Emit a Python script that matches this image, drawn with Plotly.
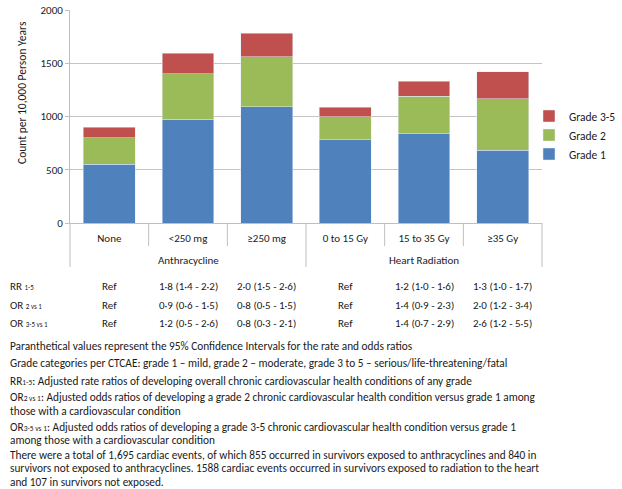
import plotly.graph_objects as go

# ---- data ----
groups = ["Anthracycline", "Anthracycline", "Anthracycline",
          "Heart Radiation", "Heart Radiation", "Heart Radiation"]
categories = ["None", "<250 mg", "≥250 mg", "0 to 15 Gy", "15 to 35 Gy", "≥35 Gy"]
grade1 = [550, 975, 1090, 780, 840, 685]
grade2 = [250, 425, 472, 220, 350, 480]
grade3_5 = [100, 195, 218, 88, 140, 255]

row_labels = ["RR <span style='font-size:7px'>1-5</span>",
              "OR <span style='font-size:7px'>2 vs 1</span>",
              "OR <span style='font-size:7px'>3-5 vs 1</span>"]
rr_1_5 = ["Ref", "1·8 (1·4 - 2·2)", "2·0 (1·5 - 2·6)", "Ref", "1·2 (1·0 - 1·6)", "1·3 (1·0 - 1·7)"]
or_2_vs_1 = ["Ref", "0·9 (0·6 - 1·5)", "0·8 (0·5 - 1·5)", "Ref", "1·4 (0·9 - 2·3)", "2·0 (1·2 - 3·4)"]
or_3_5_vs_1 = ["Ref", "1·2 (0·5 - 2·6)", "0·8 (0·3 - 2·1)", "Ref", "1·4 (0·7 - 2·9)", "2·6 (1·2 - 5·5)"]

footnotes = [
    "Paranthetical values represent the 95% Confidence Intervals for the rate and odds ratios",
    "Grade categories per CTCAE: grade 1 – mild, grade 2 – moderate, grade 3 to 5 – serious/life-threatening/fatal",
    "RR<span style='font-size:7.5px'>1-5</span>: Adjusted rate ratios of developing overall chronic cardiovascular health conditions of any grade",
    "OR<span style='font-size:7.5px'>2 vs 1</span>: Adjusted odds ratios of developing a grade 2 chronic cardiovascular health condition versus grade 1 among",
    "those with a cardiovascular condition",
    "OR<span style='font-size:7.5px'>3-5 vs 1</span>: Adjusted odds ratios of developing a grade 3-5 chronic cardiovascular health condition versus grade 1",
    "among those with a cardiovascular condition",
    "There were a total of 1,695 cardiac events, of which 855 occurred in survivors exposed to anthracyclines and 840 in",
    "survivors not exposed to anthracyclines. 1588 cardiac events occurred in survivors exposed to radiation to the heart",
    "and 107 in survivors not exposed.",
]

FONT = "Carlito, 'Liberation Sans Narrow', Lato, sans-serif"
W, H = 622, 489
L, R, T, B = 70, 80, 10, 266
PW, PH = W - L - R, H - T - B
GRID = "#c4c4c4"
AXIS = "#bfbfbf"

def px_x(px):
    return (px - L) / PW

def px_y(py):
    return (T + PH - py) / PH

fig = go.Figure()
fig.add_bar(x=categories, y=grade1, name="Grade 1", marker_color="#4f81bd")
fig.add_bar(x=categories, y=grade2, name="Grade 2", marker_color="#9bbb59")
fig.add_bar(x=categories, y=grade3_5, name="Grade 3-5", marker_color="#c0504d")

fig.update_layout(
    width=W, height=H,
    margin=dict(l=L, r=R, t=T, b=B, autoexpand=False),
    barmode="stack", bargap=0.34,
    plot_bgcolor="white", paper_bgcolor="white",
    font=dict(family=FONT, size=11, color="#1a1a1a"),
    legend=dict(x=px_x(529), y=px_y(135), xanchor="left", yanchor="middle",
                traceorder="reversed", font=dict(size=11.5), itemwidth=30,
                tracegroupgap=0),
    showlegend=True,
)
fig.update_yaxes(range=[0, 2000], dtick=500, showgrid=True, gridcolor=GRID,
                 showline=True, linecolor=AXIS, ticks="outside", ticklen=4,
                 tickcolor=AXIS, tickfont=dict(size=11), zeroline=False,
                 automargin=False)
fig.update_xaxes(type="category", showline=True, linecolor=AXIS, ticks="",
                 tickfont=dict(size=11), ticklabelstandoff=5, automargin=False,
                 range=[-0.5, len(categories) - 0.5])

# y-axis title
fig.add_annotation(text="Count per 10,000 Person Years", textangle=-90,
                   x=px_x(22), y=px_y(93), xref="paper", yref="paper",
                   xanchor="center", yanchor="middle",
                   showarrow=False, font=dict(size=11.5))

# category separators and group labels
n = len(categories)
for i in range(0, n + 1):
    is_group_edge = (i == 0 or i == n or groups[i] != groups[i - 1])
    fig.add_shape(type="line", xref="paper", yref="paper",
                  x0=i / n, x1=i / n, y0=0, y1=px_y(267 if is_group_edge else 246),
                  line=dict(color=AXIS, width=1))
for g in dict.fromkeys(groups):
    idx = [i for i, gg in enumerate(groups) if gg == g]
    xc = (min(idx) + max(idx) + 1) / 2 / n
    fig.add_annotation(text=g, x=xc, y=px_y(260.5), xref="paper", yref="paper",
                       xanchor="center", yanchor="middle", showarrow=False,
                       font=dict(size=11))

# table
rows = [rr_1_5, or_2_vs_1, or_3_5_vs_1]
row_y = [286.5, 305, 323.5]
for lab, vals, yy in zip(row_labels, rows, row_y):
    fig.add_annotation(text=lab, x=px_x(8), y=px_y(yy), xref="paper", yref="paper",
                       xanchor="left", yanchor="middle", showarrow=False,
                       font=dict(size=11))
    for i, v in enumerate(vals):
        fig.add_annotation(text=v, x=(i + 0.5) / n, y=px_y(yy), xref="paper", yref="paper",
                           xanchor="center", yanchor="middle", showarrow=False,
                           font=dict(size=11))

# footnotes
foot_y = [345.5, 362.5, 380.5, 396.5, 410.5, 426.5, 440.5, 455, 468, 481.5]
for txt, yy in zip(footnotes, foot_y):
    fig.add_annotation(text=txt, x=px_x(8), y=px_y(yy), xref="paper", yref="paper",
                       xanchor="left", yanchor="middle", showarrow=False,
                       font=dict(size=11.3))

fig.write_html("out.html", config={"displayModeBar": False},
               post_script="document.body.style.margin='0';")
